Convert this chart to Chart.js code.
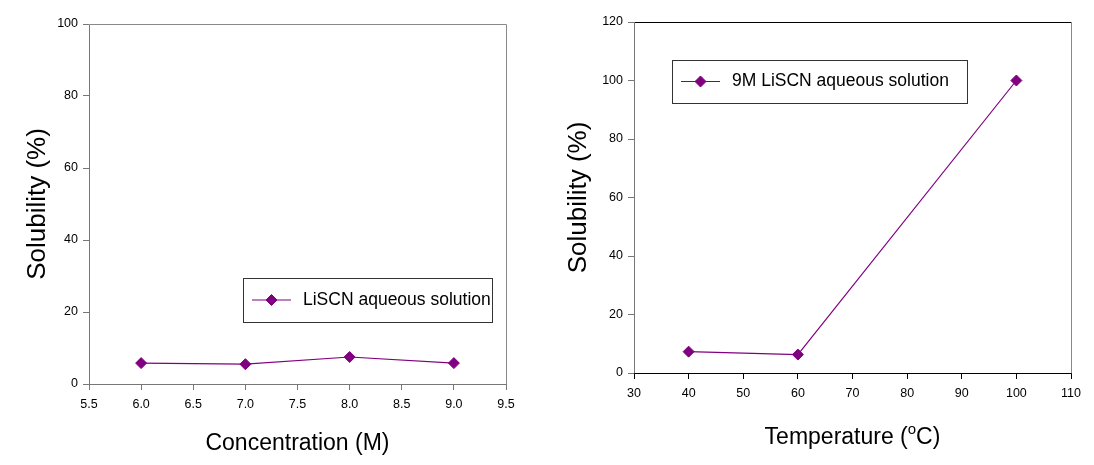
<!DOCTYPE html>
<html>
<head>
<meta charset="utf-8">
<script src="https://cdn.jsdelivr.net/npm/chart.js@4.4.0/dist/chart.umd.min.js"></script>
<style>
  html, body { margin: 0; padding: 0; background: #fff; }
  #wrap { position: relative; width: 1094px; height: 465px; }
  #wrap canvas { position: absolute; top: 0; }
</style>
</head>
<body>
<div id="wrap">
  <canvas id="concChart" width="547" height="465" style="left:0"></canvas>
  <canvas id="tempChart" width="547" height="465" style="left:547px"></canvas>
</div>
<script>
// data
var concValues = [6.0, 7.0, 8.0, 9.0];
var concSolubility = [5.8, 5.5, 7.5, 5.8];
var tempValues = [40, 60, 100];
var tempSolubility = [7.3, 6.3, 100];

var concLegend = 'LiSCN aqueous solution';
var tempLegend = '9M LiSCN aqueous solution';

var PURPLE = '#800080';
var SANS = '"Liberation Sans", Arial, sans-serif';

function toPoints(xs, ys) {
    return xs.map(function (x, i) { return { x: x, y: ys[i] }; });
}

// box around the plot area, each side its own colour
var framePlugin = {
    id: 'frame',
    beforeDatasetsDraw: function (chart, args, opts) {
        var a = chart.chartArea, ctx = chart.ctx;
        var L = Math.round(a.left) + 0.5, R = Math.round(a.right) + 0.5;
        var T = Math.round(a.top) + 0.5, B = Math.round(a.bottom) + 0.5;
        function seg(x1, y1, x2, y2, c) {
            ctx.strokeStyle = c;
            ctx.beginPath();
            ctx.moveTo(x1, y1);
            ctx.lineTo(x2, y2);
            ctx.stroke();
        }
        ctx.save();
        ctx.lineWidth = 1;
        seg(L, T, R, T, opts.top);
        seg(R, T, R, B, opts.right);
        seg(L, T, L, B, opts.left);
        seg(L, B, R, B, opts.bottom);
        ctx.restore();
    }
};

// legend drawn as a framed box inside the plot
var boxLegendPlugin = {
    id: 'boxLegend',
    afterDraw: function (chart, args, opts) {
        var a = chart.chartArea, ctx = chart.ctx;
        var ds = chart.data.datasets[0];
        var x = Math.round(a.left + opts.x), y = Math.round(a.top + opts.y);
        var cy = y + opts.height / 2;
        ctx.save();
        ctx.fillStyle = '#fff';
        ctx.fillRect(x, y, opts.width, opts.height);
        ctx.strokeStyle = '#333';
        ctx.lineWidth = 1;
        ctx.strokeRect(x + 0.5, y + 0.5, opts.width, opts.height);

        ctx.strokeStyle = ds.borderColor;
        ctx.lineWidth = 1;
        ctx.beginPath();
        ctx.moveTo(x + 9, cy);
        ctx.lineTo(x + 48, cy);
        ctx.stroke();
        ctx.fillStyle = PURPLE;
        ctx.strokeStyle = PURPLE;
        Chart.helpers.drawPoint(ctx, { pointStyle: 'rectRot', radius: ds.pointRadius, borderWidth: 1 }, x + 28.5, cy);

        ctx.fillStyle = '#000';
        ctx.font = '17.5px ' + SANS;
        ctx.textBaseline = 'middle';
        ctx.textAlign = 'left';
        ctx.fillText(ds.label, x + 60, cy);
        ctx.restore();
    }
};

// "Temperature (oC)" with a raised o
var tempTitlePlugin = {
    id: 'tempTitle',
    afterDraw: function (chart, args, opts) {
        var a = chart.chartArea, ctx = chart.ctx;
        var big = '23px ' + SANS, small = '15px ' + SANS;
        ctx.save();
        ctx.fillStyle = '#000';
        ctx.textBaseline = 'alphabetic';
        ctx.textAlign = 'left';
        ctx.font = big;
        var w1 = ctx.measureText('Temperature (').width;
        var w3 = ctx.measureText('C)').width;
        ctx.font = small;
        var w2 = ctx.measureText('o').width;
        var x = (a.left + a.right) / 2 - (w1 + w2 + w3) / 2;
        ctx.font = big;
        ctx.fillText('Temperature (', x, opts.y);
        ctx.font = small;
        ctx.fillText('o', x + w1, opts.y - 10);
        ctx.font = big;
        ctx.fillText('C)', x + w1 + w2, opts.y);
        ctx.restore();
    }
};

function lineDataset(label, xs, ys) {
    return {
        label: label,
        data: toPoints(xs, ys),
        borderColor: PURPLE,
        borderWidth: 1.2,
        backgroundColor: PURPLE,
        pointStyle: 'rectRot',
        pointRadius: 5.5,
        pointBackgroundColor: PURPLE,
        pointBorderColor: PURPLE,
        pointBorderWidth: 1,
        tension: 0
    };
}

function makeChart(id, cfg) {
    return new Chart(document.getElementById(id), {
        type: 'line',
        data: { datasets: [lineDataset(cfg.label, cfg.xs, cfg.ys)] },
        plugins: cfg.plugins,
        options: {
            responsive: false,
            animation: false,
            layout: { padding: cfg.padding },
            plugins: {
                legend: { display: false },
                tooltip: { enabled: false },
                frame: cfg.frame,
                boxLegend: cfg.legendBox,
                tempTitle: cfg.tempTitle || {}
            },
            scales: {
                x: {
                    type: 'linear',
                    min: cfg.xMin, max: cfg.xMax,
                    border: { display: false },
                    grid: { drawOnChartArea: false, drawTicks: true, tickLength: 6, color: cfg.xTickColor },
                    ticks: {
                        stepSize: cfg.xStep,
                        autoSkip: false,
                        maxRotation: 0,
                        padding: 7,
                        color: '#000',
                        font: { family: SANS, size: 12.5 },
                        callback: cfg.xFormat
                    },
                    title: cfg.xTitle,
                    afterFit: function (s) { s.height = cfg.xHeight; }
                },
                y: {
                    min: 0, max: cfg.yMax,
                    border: { display: false },
                    grid: { drawOnChartArea: false, drawTicks: true, tickLength: 6, color: '#777' },
                    ticks: {
                        stepSize: 20,
                        padding: 5,
                        color: '#000',
                        font: { family: SANS, size: 12.5 }
                    },
                    title: {
                        display: true,
                        text: 'Solubility (%)',
                        color: '#000',
                        font: { family: SANS, size: 26 },
                        padding: { top: cfg.yTitlePad, bottom: 0 }
                    },
                    afterFit: function (s) { s.width = cfg.yWidth; }
                }
            }
        }
    });
}

makeChart('concChart', {
    label: concLegend,
    xs: concValues,
    ys: concSolubility,
    xMin: 5.5, xMax: 9.5, xStep: 0.5,
    xFormat: function (v) { return Number(v).toFixed(1); },
    yMax: 100,
    padding: { top: 24, right: 41, left: 0, bottom: 0 },
    xHeight: 81,
    yWidth: 89,
    yTitlePad: 22,
    xTickColor: '#777',
    xTitle: {
        display: true,
        text: 'Concentration (M)',
        color: '#000',
        font: { family: SANS, size: 23 },
        padding: { top: 0, bottom: 8 }
    },
    frame: { top: '#888', right: '#888', left: '#777', bottom: '#777' },
    legendBox: { x: 154, y: 254, width: 249, height: 44 },
    plugins: [framePlugin, boxLegendPlugin]
});

makeChart('tempChart', {
    label: tempLegend,
    xs: tempValues,
    ys: tempSolubility,
    xMin: 30, xMax: 110, xStep: 10,
    xFormat: function (v) { return v; },
    yMax: 120,
    padding: { top: 22, right: 23, left: 0, bottom: 0 },
    xHeight: 92,
    yWidth: 87,
    yTitlePad: 16,
    xTickColor: '#000',
    xTitle: { display: false },
    frame: { top: '#000', right: '#888', left: '#777', bottom: '#000' },
    legendBox: { x: 38, y: 38, width: 295, height: 43 },
    tempTitle: { y: 444 },
    plugins: [framePlugin, boxLegendPlugin, tempTitlePlugin]
});
</script>
</body>
</html>
